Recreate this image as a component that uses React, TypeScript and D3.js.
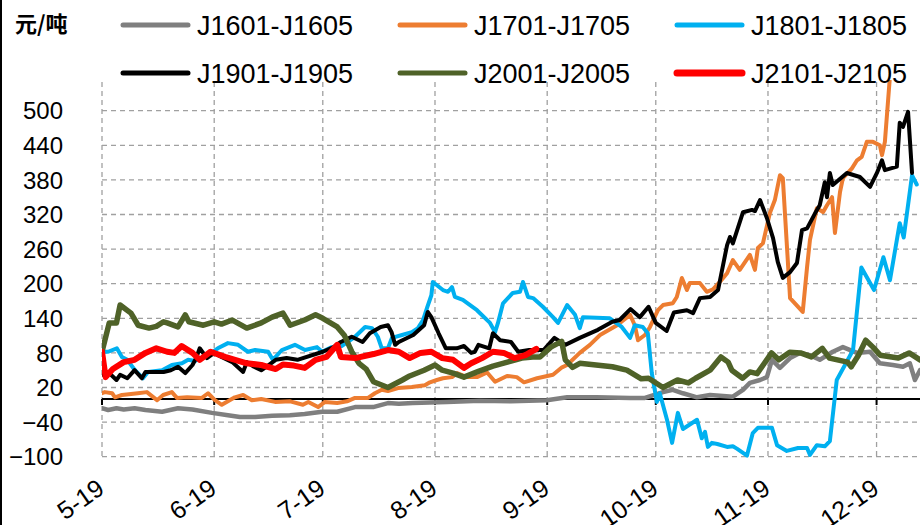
import React from 'react';
import * as d3 from 'd3';

// ---------- data ----------
const START = new Date(2019, 4, 19);
const END = new Date(2019, 11, 31);
const xTickLabels = ['5-19', '6-19', '7-19', '8-19', '9-19', '10-19', '11-19', '12-19'];
const xTickMonths = [4, 5, 6, 7, 8, 9, 10, 11];
const yTicks = [-100, -40, 20, 80, 140, 200, 260, 320, 380, 440, 500];
const unitLabel = '元/吨';

// [days since 19 May, spread value]
const j1601: [number, number][] = [
  [0, -16], [1.7, -19], [4, -16], [6, -18], [9, -16], [12, -19], [16.6, -22], [21, -16], [25, -18],
  [30.4, -24], [34.8, -28], [38.1, -31], [42.3, -31], [47, -29], [51.9, -28], [56, -26], [60.8, -22],
  [65, -22], [69.9, -14], [74.9, -14], [79, -7], [82, -8], [85.9, -7], [95.3, -5], [104.4, -3], [113, -4],
  [122.9, -2], [128.5, 3], [136.7, 3], [145.9, 2], [150, 2], [155, 12], [157.7, 16], [160.5, 10],
  [164.4, 3], [168, 7], [174.3, 4], [177.1, 16], [179, 28], [181.8, 33], [183.7, 38], [185.1, 68],
  [187.3, 54], [190.1, 71], [192.8, 80], [195.6, 76], [198.3, 68], [201.9, 82], [204.7, 90], [208.6, 80],
  [212.2, 82], [214.9, 62], [218.5, 59], [221.3, 56], [223.2, 62], [224.6, 33], [226, 50],
];

const j1701: [number, number][] = [
  [0, 10], [0.8, 12], [2.8, 10], [3.6, 3], [5.5, 7], [9.9, 10], [12.4, 12], [15.2, -2], [16.9, 7],
  [19.3, 12], [20.7, 2], [23.5, 3], [27.6, 2], [29.3, 10], [31.2, -2], [33.1, -10], [36.7, 3], [39, 7],
  [41.4, -2], [44, 0], [47.8, -5], [52, -4], [55.5, -10], [57, -5], [59.7, -14], [61.6, -5], [65, -7],
  [67.7, -4], [69.9, 2], [73.5, 2], [75.4, 10], [77.3, 16], [79, 14], [81.8, 19], [85.6, 21], [89.2, 24],
  [90.6, 29], [92.5, 33], [94.2, 36], [96.7, 38], [98.1, 45], [100.8, 38], [103.6, 38], [106.4, 46],
  [108.6, 30], [111.9, 40], [114.6, 38], [116.6, 29], [120.2, 36], [124.6, 42], [127.1, 55], [128.5, 59],
  [132, 80], [134.8, 94], [137.6, 111], [142.3, 128], [145.9, 146], [147.2, 128], [148.1, 102], [150, 111],
  [151.4, 125], [153.6, 154], [155, 163], [157.7, 166], [158.8, 177], [160.2, 210], [161.6, 189],
  [162.4, 201], [165.2, 201], [167.1, 186], [168.8, 190], [170.7, 203], [172.7, 218], [174.3, 241],
  [176.2, 224], [179, 250], [180.4, 224], [181.2, 262], [182.6, 270], [184.5, 322], [185.9, 345],
  [187.3, 388], [188.1, 383], [190.1, 175], [193.6, 151], [194.8, 229], [195.6, 276], [197.5, 331],
  [199.2, 324], [200.3, 336], [201.7, 350], [202.5, 288], [203.9, 359], [204.7, 383], [207.2, 400],
  [208.6, 414], [209.9, 420], [211.3, 446], [213, 446], [214.9, 440], [215.5, 423], [216.3, 446],
  [217.7, 560], [219, 600], [222, 640], [226, 650],
];

const j1801: [number, number][] = [
  [0, 82], [1.7, 82], [4.1, 88], [5.5, 73], [7, 68], [9.1, 50], [11.3, 36], [12.7, 47], [16.6, 50],
  [19.3, 59], [22.1, 62], [23.8, 68], [25.7, 66], [29.3, 76], [32, 88], [34.8, 97], [37.6, 94], [40.3, 82],
  [42.3, 85], [45.9, 82], [47.2, 68], [49.7, 85], [53.3, 94], [56.1, 85], [59.4, 90], [60.8, 82],
  [63.5, 90], [66.3, 92], [69.9, 108], [72.7, 125], [74.6, 123], [76.2, 108], [77.3, 88], [79, 88],
  [80.1, 106], [82.9, 111], [85.6, 116], [87.3, 123], [88.7, 137], [89.8, 158], [91, 180], [91.4, 203],
  [94.2, 189], [95.6, 186], [96.7, 194], [97.5, 177], [99.7, 172], [103.6, 154], [107.2, 132],
  [108.6, 116], [109.4, 132], [110.8, 166], [113.5, 184], [115.5, 186], [116.3, 203], [117.7, 177],
  [119.1, 175], [121.8, 160], [124.6, 142], [126, 132], [128.5, 163], [130.7, 146], [132, 123],
  [132.9, 142], [140.3, 140], [143.6, 125], [145.9, 106], [147.2, 128], [149.4, 125], [150.8, 114],
  [151.9, 45], [153.3, -5], [154.1, 10], [156.1, -36], [157.5, -76], [159.1, -24], [160.5, -52],
  [164.4, -36], [165.7, -68], [166.6, -57], [167.4, -83], [168.5, -76], [170, -78], [172.7, -83],
  [174.3, -82], [175.4, -86], [178.2, -98], [179.8, -59], [181.2, -50], [185.1, -50], [186.5, -80],
  [189.2, -90], [192.3, -85], [194.8, -85], [195.6, -97], [197.5, -80], [199.7, -82], [201.1, -73],
  [203, 33], [205.8, 65], [207.5, 85], [209.8, 228], [213.3, 189], [215.9, 246], [217.7, 206],
  [220.4, 305], [221.5, 280], [223.8, 388], [225.1, 372],
];

const j1901: [number, number][] = [
  [0, 42], [2, 45], [4, 33], [5, 42], [7, 36], [9, 50], [11, 36], [12, 47], [17, 47], [19, 50], [21, 56],
  [23, 45], [25, 59], [26, 71], [27, 88], [29, 71], [31, 80], [33, 73], [36, 64], [39, 47], [40, 64],
  [42, 56], [44, 50], [45, 54], [48, 68], [51, 71], [54, 68], [61, 82], [64, 90], [66, 99], [69, 108],
  [72, 99], [74, 114], [77, 125], [79, 128], [80, 116], [81, 94], [82, 99], [86, 111], [89, 128],
  [90, 151], [91, 142], [93, 114], [95, 88], [98, 88], [100, 92], [102, 80], [103, 82], [104, 94],
  [107, 88], [108, 114], [110, 102], [113, 99], [115, 82], [118, 85], [122, 85], [125, 106], [128, 94],
  [132, 106], [137, 120], [141, 134], [143, 137], [146, 156], [148.6, 142], [151, 160], [153, 132],
  [156, 118], [158, 150], [161.6, 154], [163.3, 149], [165.2, 175], [168, 177], [170.2, 189],
  [172.7, 267], [173.5, 281], [174.3, 270], [177.1, 324], [179.6, 328], [180.4, 326], [181.8, 345],
  [183.7, 314], [185.4, 279], [186.7, 238], [188.1, 210], [190.1, 220], [192, 236], [193.4, 293],
  [194.8, 296], [197, 322], [198.3, 336], [199.7, 376], [200.3, 350], [201.1, 392], [201.9, 371],
  [205.8, 392], [209.4, 385], [212.2, 368], [214.1, 392], [215.5, 414], [216.3, 397], [219.6, 403],
  [220.4, 479], [221.3, 472], [222.7, 498], [223.8, 392],
];

const j2001: [number, number][] = [
  [0, 82], [2, 132], [4, 132], [5, 163], [8, 149], [10, 128], [13, 123], [15, 126], [17, 134], [18, 132],
  [21, 125], [23, 146], [24, 134], [28, 128], [31, 134], [33, 130], [36, 137], [40, 123], [44, 132],
  [47, 142], [50, 149], [52, 128], [56, 137], [59, 146], [61, 140], [65, 125], [67, 110], [69, 82],
  [71, 62], [73, 52], [75, 30], [79, 20], [83, 33], [85, 40], [89, 50], [92, 59], [94, 50], [97, 45],
  [100, 38], [104, 48], [108, 57], [112, 64], [116, 71], [119, 73], [121, 73], [124, 90], [127, 100],
  [128, 68], [130, 55], [132, 62], [141, 56], [145, 50], [149, 35], [151, 36], [155, 20], [159, 33],
  [162, 28], [164, 36], [168, 50], [171, 73], [173, 64], [174, 50], [177, 36], [179, 47], [181, 44],
  [183, 62], [185, 80], [187, 68], [190, 81], [193, 80], [196, 73], [199, 88], [201, 71], [206, 64],
  [207, 56], [209, 76], [211, 102], [213, 90], [215, 76], [220, 71], [223, 80], [226, 68],
];

const j2101: [number, number][] = [
  [0, 82], [1, 38], [3, 52], [6, 64], [9, 68], [12, 80], [15, 88], [18, 82], [20, 80], [22, 92], [25, 80],
  [27, 68], [30, 82], [34, 73], [40, 62], [44, 59], [48, 52], [50, 60], [53, 58], [56, 54], [59, 68],
  [62, 73], [65, 94], [66, 73], [70, 71], [75, 78], [79, 85], [82, 82], [85, 71], [88, 80], [91, 82],
  [94, 71], [97, 68], [100, 54], [102, 62], [105, 71], [108, 82], [111, 80], [114, 71], [117, 76],
  [120, 87],
];

const seriesNames = ['J1601-J1605', 'J1701-J1705', 'J1801-J1805', 'J1901-J1905', 'J2001-J2005', 'J2101-J2105'];
const seriesData = [j1601, j1701, j1801, j1901, j2001, j2101];
const seriesColors = ['#7f7f7f', '#ed7d31', '#00b0f0', '#000000', '#4f6228', '#ff0000'];
const seriesWidths = [4.5, 4, 4, 4, 5.5, 6];

// ---------- layout ----------
const W = 922;
const H = 525;
const PL = 102;
const PR = 920;
const PT = 80;
const PB = 457;

export default function App() {
  const x = d3.scaleTime().domain([START, END]).range([PL, PR]);
  const y = d3.scaleLinear().domain([-100, 500]).range([456.7, 110.7]);
  const dayToDate = (d: number) => new Date(START.getTime() + d * 86400000);
  const line = d3
    .line<[number, number]>()
    .x((p) => x(dayToDate(p[0])))
    .y((p) => y(p[1]));

  const tickDates = xTickMonths.map((m) => new Date(2019, m, 19));
  const font = '"Liberation Sans", Arial, sans-serif';

  const legendCols = [123, 400, 677];
  const legendRows = [25, 73];

  return (
    <svg
      width={W}
      height={H}
      style={{ position: 'absolute', left: 0, top: 0, background: '#fff' }}
      fontFamily={font}
    >
      <defs>
        <clipPath id="plotClip">
          <rect x={PL} y={PT} width={PR - PL} height={PB - PT + 4} />
        </clipPath>
      </defs>
      <rect x={0} y={0} width={W} height={H} fill="#fff" />
      <rect x={0} y={0} width={2} height={H} fill="#000" />

      {/* horizontal gridlines */}
      {yTicks.map((t) => (
        <line
          key={'hg' + t}
          x1={PL}
          x2={PR}
          y1={y(t)}
          y2={y(t)}
          stroke="#a0a0a0"
          strokeWidth={1.3}
          strokeDasharray="5,4"
        />
      ))}
      {/* vertical gridlines */}
      {tickDates.map((d, i) => (
        <line
          key={'vg' + i}
          x1={x(d)}
          x2={x(d)}
          y1={PT + 2}
          y2={PB}
          stroke="#a0a0a0"
          strokeWidth={1.3}
          strokeDasharray="5,4"
        />
      ))}

      {/* y labels */}
      {yTicks.map((t) => (
        <text key={'yl' + t} x={63} y={y(t)} dy="0.36em" textAnchor="end" fontSize={24} fill="#000">
          {t < 0 ? '\u2212' + Math.abs(t) : t}
        </text>
      ))}

      {/* zero axis */}
      <line x1={PL} x2={PR} y1={y(0)} y2={y(0)} stroke="#000" strokeWidth={2} />
      {tickDates.map((d, i) => (
        <line key={'tk' + i} x1={x(d)} x2={x(d)} y1={y(0)} y2={y(0) + 6} stroke="#000" strokeWidth={2} />
      ))}

      {/* x labels */}
      {tickDates.map((d, i) => (
        <text
          key={'xl' + i}
          transform={`translate(${x(d) + 4},${492}) rotate(-35)`}
          textAnchor="end"
          fontSize={25}
          fill="#000"
        >
          {xTickLabels[i]}
        </text>
      ))}

      {/* series */}
      <g clipPath="url(#plotClip)">
        {seriesData.map((s, i) => (
          <path
            key={'s' + i}
            d={line(s) || ''}
            fill="none"
            stroke={seriesColors[i]}
            strokeWidth={seriesWidths[i]}
            strokeLinejoin="round"
            strokeLinecap="round"
          />
        ))}
      </g>

      {/* unit */}
      <text
        x={15}
        y={24}
        dy="0.36em"
        fontSize={22}
        fontWeight={700}
        fontFamily='"Noto Sans CJK SC", sans-serif'
        fill="#000"
      >
        {unitLabel}
      </text>

      {/* legend */}
      {seriesNames.map((name, i) => {
        const cx = legendCols[i % 3];
        const cy = legendRows[Math.floor(i / 3)];
        return (
          <g key={'lg' + i}>
            <line
              x1={cx}
              x2={cx + 65}
              y1={cy}
              y2={cy}
              stroke={seriesColors[i]}
              strokeWidth={i === 5 ? 7 : 5}
              strokeLinecap="round"
            />
            <text x={cx + 74} y={cy} dy="0.36em" fontSize={27} fill="#000">
              {name}
            </text>
          </g>
        );
      })}
    </svg>
  );
}
